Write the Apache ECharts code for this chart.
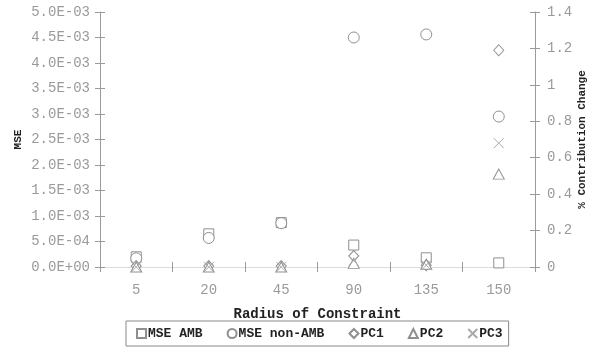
<!DOCTYPE html>
<html>
<head>
<meta charset="utf-8">
<script src="https://cdn.jsdelivr.net/npm/echarts@6/dist/echarts.min.js"></script>
<style>
  html, body { margin: 0; padding: 0; background: #fff; }
  #chart { width: 594px; height: 358px; }
</style>
</head>
<body>
<div id="chart"></div>
<script>
// Radius categories along the x axis
const radii = ['5', '20', '45', '90', '135', '150'];

// Mean squared error (left axis)
const mseAmb    = [0.00020, 0.00065, 0.00087, 0.00043, 0.00018, 0.00008];
const mseNonAmb = [0.00017, 0.00057, 0.00086, 0.00450, 0.00456, 0.00295];

// Percent contribution change of principal components (right axis)
const pc1 = [0.005, 0.005, 0.005, 0.06, 0.01, 1.19];
const pc2 = [0.0, 0.0, 0.0, 0.02, 0.015, 0.51];
const pc3 = [0.0, 0.0, 0.0, 0.035, 0.01, 0.68];

const MONO = '"Liberation Mono", "DejaVu Sans Mono", monospace';
const AXIS_GREY = '#9a9a9a';
const MARK_GREY = '#8f8f8f';

// Scientific notation with a two digit exponent, e.g. 5.0E-03
function sci(v) {
  if (v === 0) return '0.0E+00';
  const [m, e] = v.toExponential(1).split('e');
  const n = parseInt(e, 10);
  const sign = n < 0 ? '-' : '+';
  return m + 'E' + sign + String(Math.abs(n)).padStart(2, '0');
}

const chart = echarts.init(document.getElementById('chart'), null, { renderer: 'canvas' });

const tickLabel = { color: '#9a9a9a', fontFamily: MONO, fontSize: 14 };
const nameStyle = { color: '#222', fontFamily: MONO, fontWeight: 'bold' };

function markerSeries(name, data, yIdx, symbol, size, color) {
  return {
    name, type: 'scatter', data, yAxisIndex: yIdx, xAxisIndex: 0,
    symbol, symbolSize: size,
    itemStyle: { color: symbol.startsWith('path') ? 'transparent' : '#fff', borderColor: color, borderWidth: 1, opacity: 1 },
    emphasis: { disabled: true },
    z: 5
  };
}

const option = {
  animation: false,
  backgroundColor: '#fff',
  grid: { left: 100, right: 59, top: 12, bottom: 91, containLabel: false, outerBoundsMode: 'none' },
  xAxis: [
    {
      type: 'category', data: radii, position: 'bottom',
      name: 'Radius of Constraint', nameLocation: 'middle', nameGap: 40, nameMoveOverlap: false,
      nameTextStyle: Object.assign({ fontSize: 14 }, nameStyle),
      axisLine: { lineStyle: { color: AXIS_GREY } },
      axisTick: { show: true, length: 5, lineStyle: { color: AXIS_GREY } },
      axisLabel: Object.assign({ margin: 16 }, tickLabel),
      splitLine: { show: false }
    },
    {
      // inner half of the crossing ticks on the category axis
      type: 'category', data: radii, position: 'bottom', gridIndex: 0,
      axisLine: { show: false },
      axisTick: { show: true, inside: true, length: 5, lineStyle: { color: AXIS_GREY } },
      axisLabel: { show: false }, splitLine: { show: false }
    },
    {
      // frame line across the top of the plot
      type: 'category', data: radii, position: 'top',
      axisLine: { lineStyle: { color: '#dcdcdc' } },
      axisTick: { show: false }, axisLabel: { show: false }, splitLine: { show: false }
    }
  ],
  yAxis: [
    {
      type: 'value', position: 'left', min: 0, max: 0.005, interval: 0.0005,
      name: 'MSE', nameLocation: 'middle', nameGap: 76, nameRotate: 90, nameMoveOverlap: false,
      nameTextStyle: Object.assign({ fontSize: 11 }, nameStyle),
      axisLine: { show: true, lineStyle: { color: AXIS_GREY } },
      axisTick: { show: true, length: 5, lineStyle: { color: AXIS_GREY } },
      axisLabel: Object.assign({ margin: 10, formatter: sci }, tickLabel),
      splitLine: { show: false }
    },
    {
      type: 'value', position: 'right', min: 0, max: 1.4, interval: 0.2,
      name: '% Contribution Change', nameLocation: 'middle', nameGap: 42, nameRotate: 90, nameMoveOverlap: false,
      nameTextStyle: Object.assign({ fontSize: 11 }, nameStyle),
      axisLine: { show: true, lineStyle: { color: AXIS_GREY } },
      axisTick: { show: true, length: 5, lineStyle: { color: AXIS_GREY } },
      axisLabel: Object.assign({ margin: 12 }, tickLabel),
      splitLine: { show: false }
    },
    {
      type: 'value', position: 'left', min: 0, max: 0.005, interval: 0.0005,
      axisLine: { show: false },
      axisTick: { show: true, inside: true, length: 5, lineStyle: { color: AXIS_GREY } },
      axisLabel: { show: false }, splitLine: { show: false }
    },
    {
      type: 'value', position: 'right', min: 0, max: 1.4, interval: 0.2,
      axisLine: { show: false },
      axisTick: { show: true, inside: true, length: 5, lineStyle: { color: AXIS_GREY } },
      axisLabel: { show: false }, splitLine: { show: false }
    }
  ],
  legend: {
    left: 126, bottom: 12,
    orient: 'horizontal',
    itemWidth: 9, itemHeight: 9, itemGap: 24,
    padding: [6, 6, 6, 10],
    borderColor: '#888', borderWidth: 1,
    textStyle: { color: '#222', fontFamily: MONO, fontWeight: 'bold', fontSize: 13, padding: [0, 0, 0, -3] },
    data: ['MSE AMB', 'MSE non-AMB', 'PC1', 'PC2', 'PC3']
  },
  series: [
    markerSeries('MSE AMB', mseAmb, 0, 'rect', 10, MARK_GREY),
    markerSeries('MSE non-AMB', mseNonAmb, 0, 'circle', 11, MARK_GREY),
    markerSeries('PC1', pc1, 1, 'diamond', [10, 11], MARK_GREY),
    markerSeries('PC2', pc2, 1, 'triangle', [11, 10], MARK_GREY),
    markerSeries('PC3', pc3, 1, 'path://M0,0L10,10M10,0L0,10', 10, '#aaaaaa')
  ]
};

chart.setOption(option);
</script>
</body>
</html>
